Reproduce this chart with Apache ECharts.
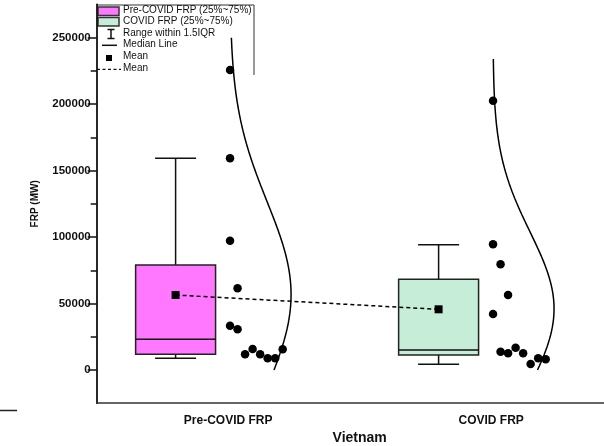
<!DOCTYPE html>
<html><head><meta charset="utf-8">
<script src="https://cdn.jsdelivr.net/npm/echarts@6/dist/echarts.min.js"></script>
<style>html,body{margin:0;padding:0;background:#fff}#c{width:604px;height:446px}</style>
</head><body><div id="c"></div>
<script>
// ---------------- data ----------------
const categories = ['Pre-COVID FRP', 'COVID FRP'];
const legendLabels = ['Pre-COVID FRP (25%~75%)', 'COVID FRP (25%~75%)', 'Range within 1.5IQR', 'Median Line', 'Mean', 'Mean'];
const preValues = [225700, 159300, 97300, 61500, 33300, 30600, 11800, 15800, 11800, 8800, 8800, 15600];
const preSlots = [0, 0, 0, 1, 0, 1, 2, 3, 4, 5, 6, 7];
const covidValues = [202600, 94550, 79500, 56400, 42100, 13800, 12550, 16800, 12550, 4500, 8800, 8050];
const covidSlots = [0, 0, 1, 2, 0, 1, 2, 3, 4, 5, 6, 7];
// [lower whisker, Q1, median, Q3, upper whisker]
const preBox = [8800, 11800, 23100, 79000, 159300];
const covidBox = [4300, 11300, 15050, 68200, 94300];
const means = [56400, 45650];
const curveRanges = [[0, 250000], [0, 234000]];
const yTickValues = [0, 50000, 100000, 150000, 200000, 250000];

// ---------------- layout / style ----------------
const FONT = 'Liberation Sans, Arial, sans-serif';
const BOX_OFF = -0.2, BOX_HALF = 0.152, CAP_HALF = 0.078;
const PT_OFF = 0.007, SLOT = 0.0286, CURVE_W = 0.232;
const boxColors = ['#FF78FF', '#C6EDD7'];

const groups = [
  { values: preValues, slots: preSlots, box: preBox },
  { values: covidValues, slots: covidSlots, box: covidBox }
];

function stats(arr) {
  const m = arr.reduce((a, b) => a + b, 0) / arr.length;
  const v = arr.reduce((a, b) => a + (b - m) * (b - m), 0) / (arr.length - 1);
  return { m, sd: Math.sqrt(v) };
}

const pointSeries = groups.map((g, gi) => ({
  type: 'scatter', xAxisIndex: 1, yAxisIndex: 0, z: 5,
  symbol: 'circle', symbolSize: 8.5,
  itemStyle: { color: '#000', opacity: 1 },
  data: g.values.map((v, k) => [gi + 1 + PT_OFF + g.slots[k] * SLOT, v]),
  silent: true
}));

const curveSeries = groups.map((g, gi) => {
  const s = stats(g.values);
  const [lo, hi] = curveRanges[gi];
  const N = 160;
  const data = [];
  for (let i = 0; i <= N; i++) {
    const y = lo + (hi - lo) * i / N;
    const z = (y - s.m) / s.sd;
    data.push([gi + 1 + PT_OFF + CURVE_W * Math.exp(-0.5 * z * z), y]);
  }
  return {
    type: 'line', xAxisIndex: 1, yAxisIndex: 0, z: 4,
    showSymbol: false, symbol: 'none', smooth: false,
    lineStyle: { color: '#000', width: 1.5 },
    data, silent: true
  };
});

const boxSeries = {
  type: 'custom', xAxisIndex: 1, yAxisIndex: 0, z: 2,
  data: groups.map((g, gi) => [gi + 1].concat(g.box)),
  renderItem(params, api) {
    const x = api.value(0) + BOX_OFF;
    const lw = api.value(1), q1 = api.value(2), md = api.value(3), q3 = api.value(4), uw = api.value(5);
    const pL = api.coord([x - BOX_HALF, q3]);
    const pR = api.coord([x + BOX_HALF, q1]);
    const pc = (v) => api.coord([x, v]);
    const cL = api.coord([x - CAP_HALF, uw]), cR = api.coord([x + CAP_HALF, uw]);
    const dL = api.coord([x - CAP_HALF, lw]), dR = api.coord([x + CAP_HALF, lw]);
    const mL = api.coord([x - BOX_HALF, md]), mR = api.coord([x + BOX_HALF, md]);
    const ls = { stroke: '#111', lineWidth: 1.5 };
    return {
      type: 'group',
      children: [
        { type: 'line', shape: { x1: pc(q3)[0], y1: pc(q3)[1], x2: pc(uw)[0], y2: pc(uw)[1] }, style: ls },
        { type: 'line', shape: { x1: pc(q1)[0], y1: pc(q1)[1], x2: pc(lw)[0], y2: pc(lw)[1] }, style: ls },
        { type: 'line', shape: { x1: cL[0], y1: cL[1], x2: cR[0], y2: cR[1] }, style: ls },
        { type: 'line', shape: { x1: dL[0], y1: dL[1], x2: dR[0], y2: dR[1] }, style: ls },
        { type: 'rect', shape: { x: pL[0], y: pL[1], width: pR[0] - pL[0], height: pR[1] - pL[1] },
          style: { fill: boxColors[params.dataIndex], stroke: '#222', lineWidth: 1.5 } },
        { type: 'line', shape: { x1: mL[0], y1: mL[1], x2: mR[0], y2: mR[1] }, style: ls }
      ]
    };
  }
};

const meanData = means.map((m, i) => [i + 1 + BOX_OFF, m]);
const meanLine = {
  type: 'line', xAxisIndex: 1, yAxisIndex: 0, z: 3,
  symbol: 'none', data: meanData,
  lineStyle: { color: '#000', width: 1.5, type: [4, 3] }, silent: true
};
const meanPts = {
  type: 'scatter', xAxisIndex: 1, yAxisIndex: 0, z: 4,
  symbol: 'rect', symbolSize: 8, itemStyle: { color: '#000', opacity: 1 },
  data: meanData, silent: true
};

// legend drawn as graphic
const LX = 96.7, LT = 5;
const txt = (i, y) => ({ type: 'text', left: 123, top: y - 6,
  style: { text: legendLabels[i], font: '10px ' + FONT, fill: '#111' } });
const legendGraphic = [
  { type: 'line', shape: { x1: LX, y1: LT, x2: 254, y2: LT }, style: { stroke: '#333', lineWidth: 1 } },
  { type: 'line', shape: { x1: 254, y1: LT, x2: 254, y2: 75 }, style: { stroke: '#333', lineWidth: 1 } },
  { type: 'rect', shape: { x: 98, y: 7, width: 21, height: 8.5 }, style: { fill: boxColors[0], stroke: '#333', lineWidth: 1.5 } },
  { type: 'rect', shape: { x: 98, y: 17.5, width: 21, height: 8.5 }, style: { fill: boxColors[1], stroke: '#333', lineWidth: 1.5 } },
  { type: 'line', shape: { x1: 111, y1: 29.5, x2: 111, y2: 38.5 }, style: { stroke: '#111', lineWidth: 1.5 } },
  { type: 'line', shape: { x1: 107.5, y1: 29.5, x2: 114.5, y2: 29.5 }, style: { stroke: '#111', lineWidth: 1.5 } },
  { type: 'line', shape: { x1: 107.5, y1: 38.5, x2: 114.5, y2: 38.5 }, style: { stroke: '#111', lineWidth: 1.5 } },
  { type: 'line', shape: { x1: 102, y1: 45.3, x2: 117, y2: 45.3 }, style: { stroke: '#111', lineWidth: 1.5 } },
  { type: 'rect', shape: { x: 106, y: 55, width: 6, height: 6 }, style: { fill: '#000' } },
  { type: 'line', shape: { x1: 97, y1: 69.3, x2: 121, y2: 69.3 }, style: { stroke: '#111', lineWidth: 1.2, lineDash: [3, 2.5] } },
  txt(0, 11), txt(1, 22.5), txt(2, 34), txt(3, 45.5), txt(4, 57.5), txt(5, 69),
  // stray mark at bottom left of the original figure
  { type: 'line', shape: { x1: 0, y1: 410.5, x2: 17, y2: 410.5 }, style: { stroke: '#222', lineWidth: 1.5 } }
];

const chart = echarts.init(document.getElementById('c'), null, { renderer: 'canvas' });
chart.setOption({
  animation: false,
  backgroundColor: '#fff',
  grid: [
    { left: 96.7, top: 4.5, width: 526, height: 398.7, containLabel: false, outerBoundsMode: 'none' },
    { left: 96.7, top: 37.7, width: 526, height: 332.3, containLabel: false, outerBoundsMode: 'none' }
  ],
  xAxis: [
    { type: 'category', gridIndex: 0, data: categories, boundaryGap: true, position: 'bottom',
      axisLine: { onZero: false, lineStyle: { color: '#333', width: 1.5 } },
      axisTick: { alignWithLabel: true, length: 6, lineStyle: { color: '#222', width: 1.5 } },
      axisLabel: { fontFamily: FONT, fontWeight: 'bold', fontSize: 12, color: '#111', margin: 11 },
      splitLine: { show: false },
      name: 'Vietnam', nameLocation: 'middle', nameGap: 20,
      nameTextStyle: { fontFamily: FONT, fontWeight: 'bold', fontSize: 14, color: '#111' } },
    { type: 'value', gridIndex: 0, min: 0.5, max: 2.5, show: false },
    { type: 'value', gridIndex: 1, min: 0, max: 1, show: false }
  ],
  yAxis: [
    { type: 'value', gridIndex: 0, min: -25000, max: 275000,
      axisLine: { show: true, onZero: false, lineStyle: { color: '#111', width: 1.8 } },
      axisTick: { show: false }, axisLabel: { show: false }, splitLine: { show: false },
      name: 'FRP (MW)', nameLocation: 'middle', nameGap: 56, nameRotate: 90,
      nameTextStyle: { fontFamily: FONT, fontWeight: 'bold', fontSize: 10, color: '#111' } },
    { type: 'value', gridIndex: 1, min: yTickValues[0], max: yTickValues[yTickValues.length - 1],
      interval: yTickValues[1] - yTickValues[0],
      axisLine: { show: false },
      axisTick: { show: true, length: 9, lineStyle: { color: '#111', width: 1.5 } },
      minorTick: { show: true, splitNumber: 2, length: 6, lineStyle: { color: '#111', width: 1.5 } },
      axisLabel: { fontFamily: FONT, fontWeight: 'bold', fontSize: 11.5, color: '#111', margin: 6,
        formatter: (v) => String(v) },
      splitLine: { show: false }, minorSplitLine: { show: false } }
  ],
  graphic: legendGraphic,
  series: [boxSeries, meanLine, meanPts].concat(pointSeries, curveSeries)
});
</script></body></html>
